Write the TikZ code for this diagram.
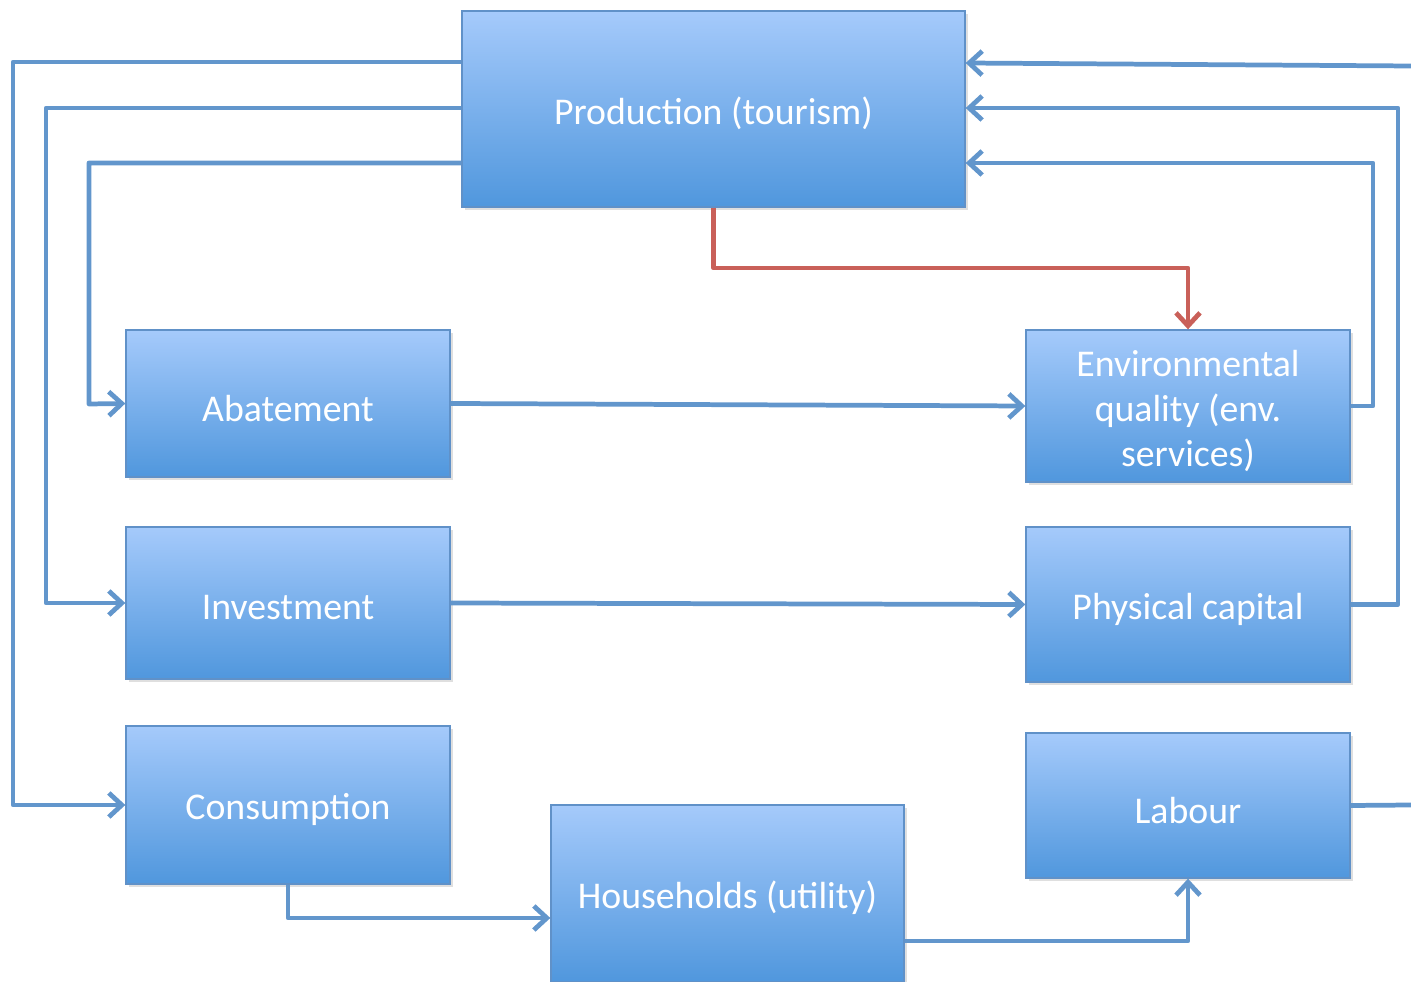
\documentclass[tikz,border=0pt]{standalone}
\usepackage{fontspec}
\setmainfont{Carlito}
\usetikzlibrary{arrows.meta,shadows,calc}
\definecolor{boxtop}{RGB}{165,202,251}
\definecolor{boxbot}{RGB}{80,151,221}
\definecolor{boxedge}{RGB}{96,145,200}
\definecolor{lineblue}{RGB}{98,150,204}
\definecolor{linered}{RGB}{201,96,89}
\newcommand\lowertxt[1]{\raisebox{-2.6pt}[\height][\depth]{#1}}
\tikzset{
  box/.style={rectangle, draw=boxedge, line width=0.8pt, top color=boxtop, bottom color=boxbot,
    text=white, font=\fontsize{21.5}{25.6}\selectfont, align=center, inner sep=2pt,
    drop shadow={opacity=0.25, shadow xshift=0.6mm, shadow yshift=-0.6mm}},
  conn/.style={draw=lineblue, line width=2.7pt, line join=round},
  arr/.style={conn, -{Straight Barb[length=2.6mm,width=4.8mm,line width=2.7pt]}},
  redarr/.style={arr, draw=linered},
}
\begin{document}
\begin{tikzpicture}[x=0.02cm,y=-0.02cm]
\useasboundingbox (0,0) rectangle (1411,982);
\node[box, minimum width=10.06cm, minimum height=3.92cm] (prod) at (713.5,109) {\lowertxt{Production (tourism)}};
\node[box, minimum width=6.48cm, minimum height=2.94cm] (abat) at (288,403.5) {\lowertxt{Abatement}};
\node[box, minimum width=6.48cm, minimum height=3.04cm] (env) at (1188,406) {\lowertxt{Environmental}\\\lowertxt{quality (env.}\\\lowertxt{services)}};
\node[box, minimum width=6.48cm, minimum height=3.04cm] (inv) at (288,603) {\lowertxt{Investment}};
\node[box, minimum width=6.48cm, minimum height=3.10cm] (phys) at (1188,604.5) {\lowertxt{Physical capital}};
\node[box, minimum width=6.48cm, minimum height=3.16cm] (cons) at (288,805) {\lowertxt{Consumption}};
\node[box, minimum width=7.06cm, minimum height=3.54cm] (hh) at (727.5,893.5) {\lowertxt{Households (utility)}};
\node[box, minimum width=6.48cm, minimum height=2.90cm] (lab) at (1188,805.5) {\lowertxt{Labour}};

\coordinate (yA) at (0,62);
\coordinate (yA2) at (0,63);
\coordinate (yB) at (0,108);
\coordinate (yC) at (0,163);
\coordinate (yD) at (0,918);
\coordinate (yE) at (0,941);
\coordinate (edgeTop) at (1411,66);
\coordinate (edgeLab) at (1411,805);

% left feedback lines
\draw[arr] (prod.west |- yA) -| (13,805) -- (cons.west);
\draw[arr] (prod.west |- yB) -| (46,603) -- (inv.west);
\draw[arr] (prod.west |- yC) -| (89,404) -- (abat.west);

% right feedback lines
\draw[arr] (edgeTop) -- (prod.east |- yA2);
\draw[arr] (phys.east) -| (1398,108) -- (prod.east |- yB);
\draw[arr] (env.east) -| (1373,163) -- (prod.east |- yC);
\draw[conn] (lab.east) -- (edgeLab);

% red
\draw[redarr] (prod.south) |- (1188,268) -- (env.north);

% horizontal
\draw[arr] (abat.east) -- (env.west);
\draw[arr] (inv.east) -- (phys.west);

% bottom
\draw[arr] (cons.south) |- (hh.west |- yD);
\draw[arr] (hh.east |- yE) -| (lab.south);
\end{tikzpicture}
\end{document}
